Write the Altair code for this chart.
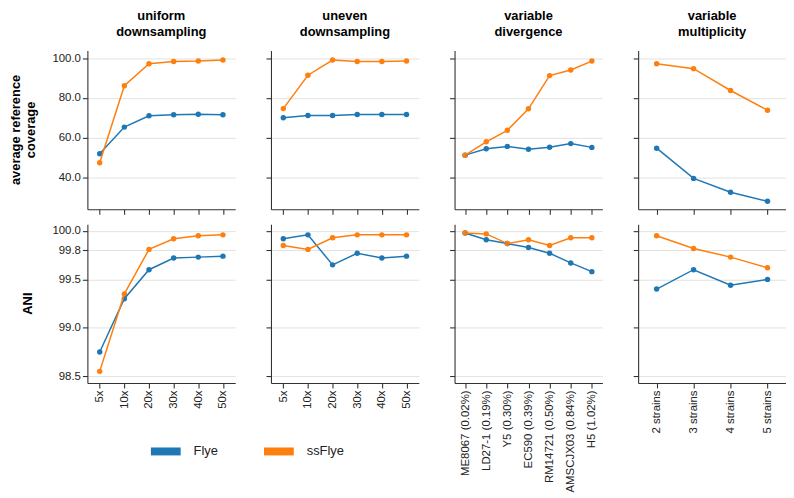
import altair as alt
import pandas as pd

# ---------------- data ----------------
tools = ["Flye", "ssFlye"]
tool_colors = ["#1f77b4", "#ff7f0e"]

col_titles = [["uniform", "downsampling"], ["uneven", "downsampling"],
              ["variable", "divergence"], ["variable", "multiplicity"]]

cov_cats = ["5x", "10x", "20x", "30x", "40x", "50x"]
div_cats = ["ME8067 (0.02%)", "LD27-1 (0.19%)", "Y5 (0.30%)", "EC590 (0.39%)",
            "RM14721 (0.50%)", "AMSCJX03 (0.84%)", "H5 (1.02%)"]
mult_cats = ["2 strains", "3 strains", "4 strains", "5 strains"]

# average reference coverage
uni_cov_flye = [51.9, 65.3, 71.0, 71.5, 71.8, 71.5]
uni_cov_ss = [47.4, 86.1, 97.2, 98.3, 98.5, 99.0]
une_cov_flye = [70.0, 71.1, 71.1, 71.6, 71.6, 71.6]
une_cov_ss = [74.6, 91.4, 99.0, 98.3, 98.3, 98.5]
div_cov_flye = [51.2, 54.4, 55.6, 54.2, 55.2, 57.0, 55.1]
div_cov_ss = [51.2, 57.9, 63.7, 74.5, 91.2, 94.0, 98.5]
mul_cov_flye = [54.7, 39.5, 32.5, 28.0]
mul_cov_ss = [97.2, 94.7, 83.7, 73.8]

# ANI
uni_ani_flye = [98.75, 99.30, 99.60, 99.72, 99.73, 99.74]
uni_ani_ss = [98.55, 99.35, 99.81, 99.92, 99.95, 99.96]
une_ani_flye = [99.92, 99.96, 99.65, 99.77, 99.72, 99.74]
une_ani_ss = [99.85, 99.81, 99.93, 99.96, 99.96, 99.96]
div_ani_flye = [99.98, 99.91, 99.87, 99.83, 99.77, 99.67, 99.58]
div_ani_ss = [99.98, 99.97, 99.87, 99.91, 99.85, 99.93, 99.93]
mul_ani_flye = [99.40, 99.60, 99.44, 99.50]
mul_ani_ss = [99.95, 99.82, 99.73, 99.62]

cov_ticks = [40.0, 60.0, 80.0, 100.0]
ani_ticks = [98.5, 99.0, 99.5, 99.8, 100.0]
cov_domain = [23.95, 103.8]
ani_domain = [98.43, 100.07]

# row titles: one entry per text line (text, x offset from panel, half length)
row_titles = [
    [("average reference", -72, 55.7), ("coverage", -57, 28.6)],
    [("ANI", -60, 11.2)],
]

panels_data = [
    [(cov_cats, uni_cov_flye, uni_cov_ss), (cov_cats, une_cov_flye, une_cov_ss),
     (div_cats, div_cov_flye, div_cov_ss), (mult_cats, mul_cov_flye, mul_cov_ss)],
    [(cov_cats, uni_ani_flye, uni_ani_ss), (cov_cats, une_ani_flye, une_ani_ss),
     (div_cats, div_ani_flye, div_ani_ss), (mult_cats, mul_ani_flye, mul_ani_ss)],
]

FONT = "Liberation Sans"
W, H = 149, 160

color_scale = alt.Scale(domain=tools, range=tool_colors)
legend = alt.Legend(
    orient="none", legendX=69, legendY=394, direction="horizontal", title=None,
    symbolType="M-1.5,-0.4H1.5V0.4H-1.5Z", symbolSize=400, symbolStrokeWidth=0,
    symbolOpacity=1, labelFontSize=13, labelFont=FONT, labelColor="#222222",
    labelOffset=18, columnPadding=46, padding=0,
)


def make_panel(r, c):
    cats, flye, ss = panels_data[r][c]
    n = len(cats)
    df = pd.DataFrame({"cat": cats + cats, "value": flye + ss,
                       "tool": ["Flye"] * n + ["ssFlye"] * n})
    x = alt.X("cat:N", sort=cats, title=None,
              axis=alt.Axis(labels=(r == 1), labelAngle=270, labelFontSize=11.5,
                            labelPadding=2))
    y = alt.Y("value:Q", title=None,
              scale=alt.Scale(domain=cov_domain if r == 0 else ani_domain,
                              nice=False, zero=False),
              axis=alt.Axis(values=cov_ticks if r == 0 else ani_ticks, format=".1f",
                            labels=(c == 0), labelFontSize=11.5, labelPadding=2))
    pts = alt.Chart(df).mark_circle(size=30, opacity=1).encode(
        x=x, y=y, color=alt.Color("tool:N", scale=color_scale, legend=legend))
    line = alt.Chart(df).mark_line(strokeWidth=1.5).encode(
        x=x, y=y, color=alt.Color("tool:N", scale=color_scale, legend=None))
    layers = [pts, line]
    if c == 0:
        for txt, xo, half in row_titles[r]:
            t = alt.Chart(pd.DataFrame({"k": [0]})).mark_text(
                angle=270, fontSize=13, fontWeight="bold", font=FONT,
                color="#000000", align="center", baseline="middle",
            ).encode(x=alt.value(xo), y=alt.value(H / 2), text=alt.value(txt))
            layers.append(t)
    props = dict(width=W, height=H)
    if r == 0:
        props["title"] = alt.Title(text=col_titles[c], fontSize=13, fontWeight="bold",
                                   font=FONT, anchor="middle", offset=12,
                                   color="#000000", lineHeight=15.5)
    return alt.layer(*layers).properties(**props)


panels = [make_panel(r, c) for r in range(2) for c in range(4)]

chart = alt.concat(*panels, columns=4, spacing={"row": 15, "column": 36},
                   bounds="flush").resolve_scale(color="shared").properties(
    padding={"left": 2, "top": 0, "right": 0, "bottom": 0}
).configure_view(stroke=None).configure_axis(
    domainColor="#333333", tickColor="#333333", labelColor="#222222",
    labelFont=FONT, titleFont=FONT, gridColor="#e2e2e2", tickSize=5,
    domainWidth=1.1, tickWidth=1.1,
).configure_axisX(grid=False).configure_axisY(grid=True)

chart.save("out.html", embed_options={"renderer": "svg", "actions": False})
